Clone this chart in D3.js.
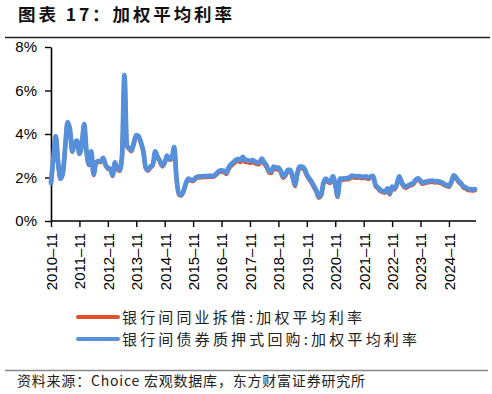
<!DOCTYPE html>
<html><head><meta charset="utf-8">
<script src="https://cdn.jsdelivr.net/npm/d3@7"></script>
<style>
body{margin:0;background:#fff;}
svg{display:block;}
</style></head>
<body>
<script>
const titleText = "图表 17：加权平均利率";
const sourceText = "资料来源：Choice 宏观数据库，东方财富证券研究所";
const seriesNames = ["银行间同业拆借:加权平均利率", "银行间债券质押式回购:加权平均利率"];
const xTickLabels = ["2010–11","2011–11","2012–11","2013–11","2014–11","2015–11","2016–11","2017–11","2018–11","2019–11","2020–11","2021–11","2022–11","2023–11","2024–11"];
const yTicks = [0, 2, 4, 6, 8];

// monthly, 2010-11 .. 2025-10
const lendingRate = [
1.74,2.88,3.88,2.68,1.93,2.18,3.38,4.52,4.17,3.17,
3.57,3.66,3.07,3.46,4.4,3.16,2.56,3.15,2.1,2.66,
2.7,2.7,2.85,2.55,2.4,2.36,2.06,2.65,2.35,2.3,
2.95,6.6,3.44,3.3,3.2,3.55,3.9,3.85,3.55,3.15,
2.4,2.3,2.45,2.55,3.15,2.9,2.7,2.5,2.65,2.95,
2.8,2.85,3.33,1.9,1.2,1.16,1.36,1.7,1.9,1.85,
1.83,1.93,1.99,2.0,2.0,2.02,2.01,2.03,2.02,2.05,
2.14,2.24,2.27,2.24,2.15,2.38,2.52,2.62,2.72,2.76,
2.7,2.85,2.7,2.71,2.66,2.7,2.66,2.6,2.62,2.78,
2.62,2.47,2.22,2.2,2.42,2.37,2.37,2.22,1.98,2.08,
2.28,2.27,1.98,1.6,2.12,2.42,2.42,2.32,2.08,1.9,
1.74,1.54,1.34,1.06,1.14,1.68,1.88,1.78,1.74,1.98,
1.63,1.1,1.88,1.88,1.9,1.91,1.93,2.01,1.99,1.98,
1.99,1.97,1.96,1.98,1.93,1.98,2.0,1.6,1.49,1.37,
1.32,1.29,1.44,1.21,1.52,1.44,1.63,1.98,1.73,1.56,
1.52,1.59,1.64,1.69,1.84,1.9,1.79,1.7,1.74,1.76,
1.78,1.79,1.76,1.77,1.75,1.72,1.64,1.6,1.56,1.74,
2.03,1.94,1.79,1.69,1.54,1.49,1.41,1.4,1.39,1.4];

const repoRate = [
1.75,2.9,3.9,2.7,1.95,2.2,3.4,4.55,4.2,3.2,
3.6,3.7,3.1,3.5,4.45,3.2,2.6,3.2,2.15,2.7,
2.75,2.75,2.9,2.6,2.45,2.4,2.1,2.7,2.4,2.35,
3.0,6.7,3.5,3.35,3.25,3.6,3.95,3.9,3.6,3.2,
2.45,2.35,2.5,2.6,3.2,2.95,2.75,2.55,2.7,3.0,
2.85,2.9,3.4,1.95,1.25,1.2,1.4,1.75,1.95,1.9,
1.88,1.98,2.04,2.05,2.05,2.07,2.06,2.08,2.07,2.1,
2.2,2.3,2.33,2.3,2.22,2.45,2.6,2.7,2.8,2.85,
2.8,2.95,2.8,2.8,2.75,2.8,2.75,2.68,2.7,2.87,
2.7,2.55,2.3,2.28,2.5,2.45,2.45,2.3,2.05,2.15,
2.35,2.35,2.05,1.66,2.2,2.5,2.5,2.4,2.15,1.96,
1.8,1.6,1.4,1.12,1.2,1.75,1.95,1.85,1.8,2.05,
1.7,1.15,1.95,1.95,1.96,1.97,2.0,2.08,2.06,2.05,
2.06,2.04,2.03,2.05,2.0,2.05,2.07,1.66,1.55,1.43,
1.38,1.35,1.5,1.27,1.58,1.5,1.7,2.05,1.8,1.62,
1.58,1.65,1.7,1.75,1.9,1.96,1.85,1.76,1.8,1.82,
1.84,1.85,1.82,1.83,1.81,1.78,1.7,1.66,1.62,1.8,
2.1,2.0,1.85,1.75,1.6,1.55,1.47,1.46,1.45,1.46];

const colors = ["#E0532A", "#5690DA"];

const W = 492, H = 394;
const svg = d3.select("body").append("svg").attr("width", W).attr("height", H);

// Title
svg.append("text").attr("x", 18).attr("y", 21)
  .attr("font-family", "'Noto Sans CJK SC', sans-serif").attr("font-weight", "bold")
  .attr("font-size", 17.5).attr("fill", "#111")
  .attr("textLength", 214).attr("lengthAdjust", "spacing")
  .text(titleText);
svg.append("line").attr("x1", 5).attr("x2", 490).attr("y1", 37.5).attr("y2", 37.5)
  .attr("stroke", "#222").attr("stroke-width", 1.3);

const x = d3.scaleLinear().domain([0, repoRate.length - 1]).range([51, 475]);
const y = d3.scaleLinear().domain([0, 8]).range([221, 47]);

// Y axis
const yAxis = svg.append("g").attr("transform", "translate(51,0)")
  .call(d3.axisLeft(y).tickValues(yTicks).tickFormat(d => d + "%").tickSize(6).tickSizeOuter(0).tickPadding(8));
yAxis.select(".domain").attr("stroke", "#000").attr("stroke-width", 1.6);
yAxis.selectAll(".tick line").attr("stroke", "#000").attr("stroke-width", 1.4);
yAxis.selectAll(".tick text").attr("font-family", "'Liberation Sans', Arial, sans-serif")
  .attr("font-size", 15).attr("fill", "#000");

// X axis
const xTickIdx = xTickLabels.map((_, i) => i * 12);
const xAxis = svg.append("g").attr("transform", "translate(0,221)")
  .call(d3.axisBottom(x).tickValues(xTickIdx).tickFormat((d, i) => xTickLabels[i]).tickSize(6).tickSizeOuter(0));
xAxis.select(".domain").attr("stroke", "#000").attr("stroke-width", 1.6)
  .attr("d", "M51,0H476");
xAxis.selectAll(".tick line").attr("stroke", "#000").attr("stroke-width", 1.4);
xAxis.selectAll(".tick text")
  .attr("font-family", "'Liberation Sans', Arial, sans-serif").attr("font-size", 15).attr("fill", "#000")
  .attr("text-anchor", "end").attr("transform", "rotate(-90)")
  .attr("x", -12).attr("y", 0).attr("dy", "0.36em");

// Lines
const line = d3.line().x((d, i) => x(i)).y(d => y(d)).curve(d3.curveMonotoneX);
svg.append("path").datum(lendingRate).attr("d", line)
  .attr("fill", "none").attr("stroke", colors[0]).attr("stroke-width", 4)
  .attr("stroke-linejoin", "round").attr("stroke-linecap", "round");
svg.append("path").datum(repoRate).attr("d", line)
  .attr("fill", "none").attr("stroke", colors[1]).attr("stroke-width", 4.8)
  .attr("stroke-linejoin", "round").attr("stroke-linecap", "round");

// Legend
const legY = [317, 339];
const legLen = [240, 295];
seriesNames.forEach((name, i) => {
  svg.append("line").attr("x1", 78).attr("x2", 118).attr("y1", legY[i]).attr("y2", legY[i])
    .attr("stroke", colors[i]).attr("stroke-width", 4).attr("stroke-linecap", "round");
  svg.append("text").attr("x", 122).attr("y", legY[i] + 5.5)
    .attr("font-family", "'Noto Sans CJK SC', sans-serif").attr("font-size", 15).attr("fill", "#222")
    .attr("textLength", legLen[i]).attr("lengthAdjust", "spacing")
    .text(name);
});

// Footer
svg.append("line").attr("x1", 5).attr("x2", 488).attr("y1", 370.5).attr("y2", 370.5)
  .attr("stroke", "#888").attr("stroke-width", 1.5);
svg.append("text").attr("x", 17).attr("y", 386)
  .attr("font-family", "'Noto Sans CJK SC', sans-serif").attr("font-size", 14).attr("fill", "#222")
  .attr("textLength", 348).attr("lengthAdjust", "spacing")
  .text(sourceText);
</script>
</body></html>
